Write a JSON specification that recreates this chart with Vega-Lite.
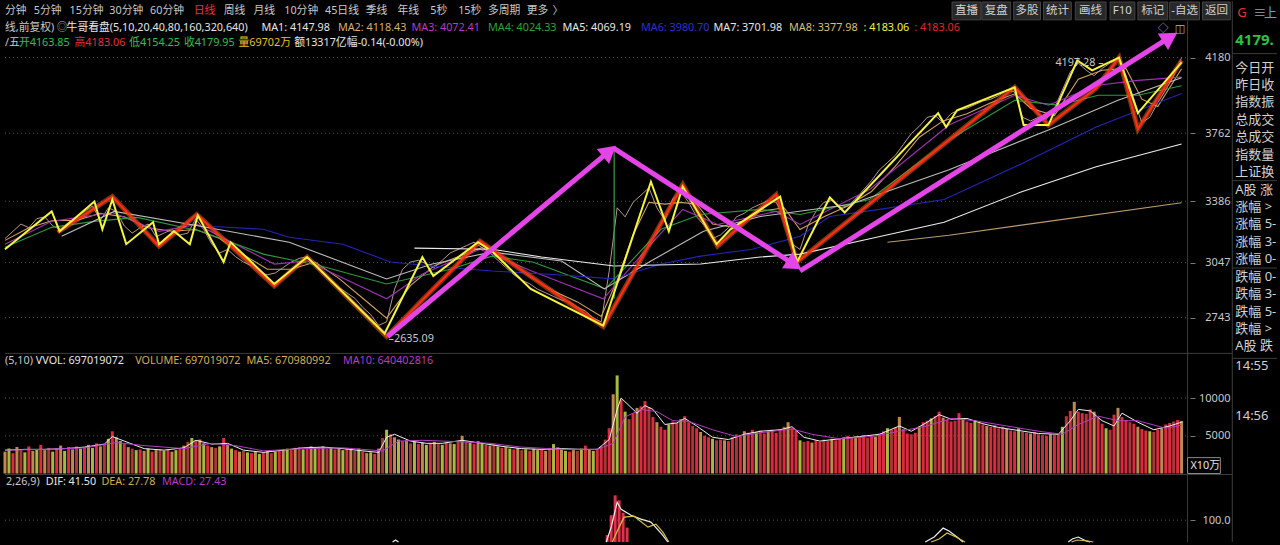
{
"$schema":"https://vega.github.io/schema/vega-lite/v6.json",
"width":1280,"height":545,
"autosize":{"type":"fit","contains":"padding"},
"padding":0,
"background":"#000000",
"config":{"view":{"stroke":null},"bar":{"continuousBandSize":3}},
"resolve":{"scale":{"y":"independent","color":"independent","strokeWidth":"independent"}},
"layer":[
{"data":{"values":[{"v":4180},{"v":3762},{"v":3386},{"v":3047},{"v":2743}]},
 "mark":{"type":"rule","color":"#505050","strokeDash":[1,3],"strokeWidth":1},
 "encoding":{"x":{"datum":0,"type":"quantitative","scale":{"domain":[0,320],"nice":false,"zero":false},"axis":null},"x2":{"datum":297.5},
  "y":{"field":"v","type":"quantitative","scale":{"domain":[1503.3,4492.6],"nice":false,"zero":false},
   "axis":{"orient":"right","offset":-90,"values":[2743,3047,3386,3762,4180],"format":"d","domain":false,"grid":false,"tickSize":5,"tickColor":"#777777","labelAlign":"right","labelPadding":35,"labelColor":"#c8c8c8","labelFont":"Noto Sans","labelFontSize":11,"labelBaseline":"middle","title":null}}}},
{"data":{"values":[{"v":10000},{"v":5000}]},
 "mark":{"type":"rule","color":"#505050","strokeDash":[1,3],"strokeWidth":1},
 "encoding":{"x":{"datum":0,"type":"quantitative","scale":{"domain":[0,320],"nice":false,"zero":false},"axis":null},"x2":{"datum":297.5},
  "y":{"field":"v","type":"quantitative","scale":{"domain":[-9079,62632],"nice":false,"zero":false},
   "axis":{"orient":"right","offset":-90,"values":[5000,10000],"format":"d","domain":false,"grid":false,"tickSize":5,"tickColor":"#777777","labelAlign":"right","labelPadding":35,"labelColor":"#c8c8c8","labelFont":"Noto Sans","labelFontSize":11,"labelBaseline":"middle","title":null}}}},
{"data":{"values":[{"v":100}]},
 "mark":{"type":"rule","color":"#505050","strokeDash":[1,3],"strokeWidth":1},
 "encoding":{"x":{"datum":0,"type":"quantitative","scale":{"domain":[0,320],"nice":false,"zero":false},"axis":null},"x2":{"datum":297.5},
  "y":{"field":"v","type":"quantitative","scale":{"domain":[56,1146],"nice":false,"zero":false},
   "axis":{"orient":"right","offset":-90,"values":[100],"format":".1f","domain":false,"grid":false,"tickSize":5,"tickColor":"#777777","labelAlign":"right","labelPadding":35,"labelColor":"#c8c8c8","labelFont":"Noto Sans","labelFontSize":11,"labelBaseline":"middle","title":null}}}},
{"data":{"values":[
 {"t1":0,"t2":308.75,"p1":2545.4,"p2":2545.4},
 {"t1":0,"t2":308.75,"p1":1876.2,"p2":1876.2},
 {"t1":297.5,"t2":297.5,"p1":4382.9,"p2":1503.3},
 {"t1":308.75,"t2":308.75,"p1":4492.6,"p2":1503.3},
 {"t1":308.75,"t2":320,"p1":4201.9,"p2":4201.9},
 {"t1":308.75,"t2":320,"p1":3499.8,"p2":3499.8},
 {"t1":308.75,"t2":320,"p1":3017.1,"p2":3017.1},
 {"t1":308.75,"t2":320,"p1":2518,"p2":2518}]},
 "mark":{"type":"rule","color":"#3c3c3c","strokeWidth":1},
 "encoding":{"x":{"field":"t1","type":"quantitative","scale":{"domain":[0,320],"nice":false,"zero":false},"axis":null},"x2":{"field":"t2"},
  "y":{"field":"p1","type":"quantitative","scale":{"domain":[1503.3,4492.6],"nice":false,"zero":false},"axis":null},"y2":{"field":"p2"}}},
{"data":{"values":[
 {"s":"直播","t1":238.25,"t2":245.5,"c":241.9},{"s":"复盘","t1":245.75,"t2":253,"c":249.4},{"s":"多股","t1":253.75,"t2":260.5,"c":257.1},
 {"s":"统计","t1":261.25,"t2":268.25,"c":264.75},{"s":"画线","t1":269.25,"t2":277,"c":273.1},{"s":"F10","t1":278,"t2":284.25,"c":281.1},
 {"s":"标记","t1":285,"t2":292.5,"c":288.75},{"s":"-自选","t1":293,"t2":300.5,"c":296.75},{"s":"返回","t1":301.25,"t2":308.25,"c":304.75}]},
 "layer":[
  {"mark":{"type":"rect","fill":"#282828","stroke":"#444444","strokeWidth":1},
   "encoding":{"x":{"field":"t1","type":"quantitative","scale":{"domain":[0,320],"nice":false,"zero":false},"axis":null},"x2":{"field":"t2"},
    "y":{"datum":4487.1,"type":"quantitative","scale":{"domain":[1503.3,4492.6],"nice":false,"zero":false},"axis":null},"y2":{"datum":4388.4}}},
  {"mark":{"type":"text","align":"center","baseline":"middle","font":"Noto Sans, Noto Sans CJK SC","fontSize":11.5,"color":"#d0d0d0"},
   "encoding":{"x":{"field":"c","type":"quantitative","scale":{"domain":[0,320],"nice":false,"zero":false},"axis":null},
    "y":{"datum":4435,"type":"quantitative","scale":{"domain":[1503.3,4492.6],"nice":false,"zero":false},"axis":null},"text":{"field":"s","type":"nominal"}}}]},
{"data":{"values":[{}]},
 "mark":{"type":"rect","fill":"#000000","stroke":"#8a8a8a","strokeWidth":1},
 "encoding":{"x":{"datum":297.5,"type":"quantitative","scale":{"domain":[0,320],"nice":false,"zero":false},"axis":null},"x2":{"datum":305.75},
  "y":{"datum":1969.5,"type":"quantitative","scale":{"domain":[1503.3,4492.6],"nice":false,"zero":false},"axis":null},"y2":{"datum":1881.8}}},
{"data":{"values":[
{"t":0,"p":3180},{"t":2,"p":3220},{"t":4,"p":3260},{"t":6,"p":3240},{"t":8,"p":3290},{"t":10,"p":3300},{"t":12,"p":3250},{"t":14,"p":3230},{"t":16,"p":3270},{"t":18,"p":3300},
{"t":20,"p":3330},{"t":22,"p":3360},{"t":24,"p":3280},{"t":26,"p":3350},{"t":28,"p":3330},{"t":30,"p":3250},{"t":32,"p":3210},{"t":34,"p":3240},{"t":36,"p":3260},{"t":38,"p":3190},
{"t":40,"p":3210},{"t":42,"p":3230},{"t":44,"p":3200},{"t":46,"p":3210},{"t":48,"p":3290},{"t":50,"p":3230},{"t":52,"p":3150},{"t":54,"p":3100},{"t":56,"p":3120},{"t":58,"p":3080},
{"t":60,"p":3050},{"t":62,"p":3030},{"t":64,"p":2990},{"t":66,"p":2980},{"t":68,"p":2990},{"t":70,"p":3020},{"t":72,"p":3050},{"t":74,"p":3070},{"t":76,"p":3080},{"t":78,"p":3040},
{"t":80,"p":2990},{"t":82,"p":2950},{"t":84,"p":2910},{"t":86,"p":2880},{"t":88,"p":2850},{"t":90,"p":2800},{"t":92,"p":2760},{"t":94,"p":2700},{"t":96,"p":2720},{"t":98,"p":2900},
{"t":100,"p":3010},{"t":102,"p":3050},{"t":104,"p":3060},{"t":106,"p":3040},{"t":108,"p":3020},{"t":110,"p":3060},{"t":112,"p":3100},{"t":114,"p":3120},{"t":116,"p":3140},{"t":118,"p":3160},
{"t":120,"p":3130},{"t":122,"p":3100},{"t":124,"p":3060},{"t":126,"p":3020},{"t":128,"p":2980},{"t":130,"p":2950},{"t":132,"p":2930},{"t":134,"p":2900},{"t":136,"p":2880},{"t":138,"p":2860},
{"t":140,"p":2840},{"t":142,"p":2830},{"t":144,"p":2800},{"t":146,"p":2780},{"t":148,"p":2740},{"t":150,"p":2720},{"t":152,"p":3000},{"t":154,"p":3350},{"t":156,"p":3300},{"t":158,"p":3380},
{"t":160,"p":3420},{"t":162,"p":3460},{"t":164,"p":3350},{"t":166,"p":3280},{"t":168,"p":3400},{"t":170,"p":3440},{"t":172,"p":3380},{"t":174,"p":3300},{"t":176,"p":3250},{"t":178,"p":3180},
{"t":180,"p":3200},{"t":182,"p":3240},{"t":184,"p":3300},{"t":186,"p":3320},{"t":188,"p":3350},{"t":190,"p":3370},{"t":192,"p":3390},{"t":194,"p":3380},{"t":196,"p":3300},{"t":198,"p":3150},
{"t":200,"p":3120},{"t":202,"p":3250},{"t":204,"p":3330},{"t":206,"p":3380},{"t":208,"p":3390},{"t":210,"p":3350},{"t":212,"p":3360},{"t":214,"p":3400},{"t":216,"p":3450},{"t":218,"p":3500},
{"t":220,"p":3560},{"t":222,"p":3600},{"t":224,"p":3640},{"t":226,"p":3700},{"t":228,"p":3760},{"t":230,"p":3800},{"t":232,"p":3850},{"t":234,"p":3860},{"t":236,"p":3820},{"t":238,"p":3870},
{"t":240,"p":3890},{"t":242,"p":3900},{"t":244,"p":3920},{"t":246,"p":3940},{"t":248,"p":3950},{"t":250,"p":3970},{"t":252,"p":4000},{"t":254,"p":3990},{"t":256,"p":3850},{"t":258,"p":3830},
{"t":260,"p":3850},{"t":262,"p":3840},{"t":264,"p":3900},{"t":266,"p":4000},{"t":268,"p":4100},{"t":270,"p":4150},{"t":272,"p":4110},{"t":274,"p":4080},{"t":276,"p":4120},{"t":278,"p":4150},
{"t":280,"p":4170},{"t":282,"p":4080},{"t":284,"p":3950},{"t":286,"p":3820},{"t":288,"p":3850},{"t":290,"p":3930},{"t":292,"p":4000},{"t":294,"p":4080},{"t":296,"p":4180}]},
 "mark":{"type":"line","color":"#f2c4c4","strokeWidth":1,"opacity":0.75},
 "encoding":{"x":{"field":"t","type":"quantitative","scale":{"domain":[0,320],"nice":false,"zero":false},"axis":null},
  "y":{"field":"p","type":"quantitative","scale":{"domain":[1503.3,4492.6],"nice":false,"zero":false},"axis":null}}},
{"data":{"values":[
{"s":"MA2","t":0,"p":3170},{"s":"MA2","t":6,"p":3240},{"s":"MA2","t":12,"p":3280},{"s":"MA2","t":18,"p":3280},{"s":"MA2","t":24,"p":3320},{"s":"MA2","t":30,"p":3300},{"s":"MA2","t":36,"p":3240},{"s":"MA2","t":42,"p":3220},{"s":"MA2","t":48,"p":3230},{"s":"MA2","t":54,"p":3180},{"s":"MA2","t":60,"p":3090},{"s":"MA2","t":66,"p":3010},{"s":"MA2","t":72,"p":3010},{"s":"MA2","t":78,"p":3050},{"s":"MA2","t":84,"p":2960},{"s":"MA2","t":90,"p":2850},{"s":"MA2","t":96,"p":2740},{"s":"MA2","t":102,"p":2920},{"s":"MA2","t":108,"p":3030},{"s":"MA2","t":114,"p":3080},{"s":"MA2","t":120,"p":3130},{"s":"MA2","t":126,"p":3070},{"s":"MA2","t":132,"p":2970},{"s":"MA2","t":138,"p":2890},{"s":"MA2","t":144,"p":2830},{"s":"MA2","t":150,"p":2750},{"s":"MA2","t":154,"p":2950},{"s":"MA2","t":158,"p":3200},{"s":"MA2","t":162,"p":3380},{"s":"MA2","t":166,"p":3370},{"s":"MA2","t":170,"p":3380},{"s":"MA2","t":174,"p":3370},{"s":"MA2","t":178,"p":3260},{"s":"MA2","t":184,"p":3240},{"s":"MA2","t":190,"p":3330},{"s":"MA2","t":196,"p":3350},{"s":"MA2","t":200,"p":3230},{"s":"MA2","t":206,"p":3300},{"s":"MA2","t":212,"p":3360},{"s":"MA2","t":218,"p":3440},{"s":"MA2","t":224,"p":3580},{"s":"MA2","t":230,"p":3740},{"s":"MA2","t":236,"p":3830},{"s":"MA2","t":242,"p":3870},{"s":"MA2","t":248,"p":3930},{"s":"MA2","t":254,"p":3980},{"s":"MA2","t":258,"p":3900},{"s":"MA2","t":264,"p":3860},{"s":"MA2","t":270,"p":4060},{"s":"MA2","t":276,"p":4110},{"s":"MA2","t":282,"p":4120},{"s":"MA2","t":286,"p":3950},{"s":"MA2","t":290,"p":3910},{"s":"MA2","t":296,"p":4118},
{"s":"MA3","t":0,"p":3149},{"s":"MA3","t":11.75,"p":3275},{"s":"MA3","t":27,"p":3324},{"s":"MA3","t":38.75,"p":3220},{"s":"MA3","t":48.25,"p":3258},{"s":"MA3","t":67.75,"p":3039},{"s":"MA3","t":76,"p":3056},{"s":"MA3","t":96,"p":2847},{"s":"MA3","t":105,"p":2984},{"s":"MA3","t":119.5,"p":3121},{"s":"MA3","t":132.5,"p":3001},{"s":"MA3","t":150.5,"p":2847},{"s":"MA3","t":162.5,"p":3149},{"s":"MA3","t":170.5,"p":3341},{"s":"MA3","t":179.25,"p":3258},{"s":"MA3","t":194,"p":3330},{"s":"MA3","t":200,"p":3258},{"s":"MA3","t":217.5,"p":3451},{"s":"MA3","t":237.5,"p":3807},{"s":"MA3","t":254,"p":3972},{"s":"MA3","t":262.5,"p":3917},{"s":"MA3","t":274.5,"p":4026},{"s":"MA3","t":285,"p":4054},{"s":"MA3","t":296,"p":4072},
{"s":"MA4","t":0,"p":3132},{"s":"MA4","t":11.75,"p":3242},{"s":"MA4","t":22.5,"p":3275},{"s":"MA4","t":33.25,"p":3297},{"s":"MA4","t":49.25,"p":3220},{"s":"MA4","t":65,"p":3094},{"s":"MA4","t":79.5,"p":3028},{"s":"MA4","t":96,"p":2929},{"s":"MA4","t":112.25,"p":3012},{"s":"MA4","t":122.5,"p":3083},{"s":"MA4","t":132.75,"p":3050},{"s":"MA4","t":151,"p":2902},{"s":"MA4","t":165,"p":3231},{"s":"MA4","t":175,"p":3313},{"s":"MA4","t":190,"p":3341},{"s":"MA4","t":200,"p":3313},{"s":"MA4","t":217.5,"p":3396},{"s":"MA4","t":237.5,"p":3725},{"s":"MA4","t":254,"p":3944},{"s":"MA4","t":265,"p":3917},{"s":"MA4","t":275,"p":3972},{"s":"MA4","t":285,"p":3972},{"s":"MA4","t":296,"p":4024},
{"s":"MA5","t":14.25,"p":3193},{"s":"MA5","t":27.5,"p":3330},{"s":"MA5","t":49.25,"p":3248},{"s":"MA5","t":71.5,"p":3160},{"s":"MA5","t":96,"p":2957},{"s":"MA5","t":107.5,"p":3039},{"s":"MA5","t":122.5,"p":3105},{"s":"MA5","t":140,"p":3056},{"s":"MA5","t":150.75,"p":2902},{"s":"MA5","t":162.5,"p":3056},{"s":"MA5","t":175.75,"p":3220},{"s":"MA5","t":190,"p":3302},{"s":"MA5","t":212.5,"p":3368},{"s":"MA5","t":237.5,"p":3560},{"s":"MA5","t":262.5,"p":3780},{"s":"MA5","t":280,"p":3944},{"s":"MA5","t":296,"p":4069},
{"s":"MA6","t":52.5,"p":3247},{"s":"MA6","t":65,"p":3231},{"s":"MA6","t":71.5,"p":3187},{"s":"MA6","t":85,"p":3149},{"s":"MA6","t":97,"p":3050},{"s":"MA6","t":110,"p":3023},{"s":"MA6","t":122.5,"p":3001},{"s":"MA6","t":140,"p":2979},{"s":"MA6","t":153,"p":2957},{"s":"MA6","t":165,"p":3039},{"s":"MA6","t":175,"p":3083},{"s":"MA6","t":188,"p":3121},{"s":"MA6","t":200,"p":3193},{"s":"MA6","t":207.5,"p":3302},{"s":"MA6","t":220,"p":3341},{"s":"MA6","t":236.25,"p":3396},{"s":"MA6","t":255.25,"p":3588},{"s":"MA6","t":274.5,"p":3796},{"s":"MA6","t":296,"p":3981},
{"s":"MA7","t":103,"p":3127},{"s":"MA7","t":122.5,"p":3121},{"s":"MA7","t":135,"p":3078},{"s":"MA7","t":153.25,"p":3028},{"s":"MA7","t":175,"p":3039},{"s":"MA7","t":190,"p":3078},{"s":"MA7","t":200,"p":3094},{"s":"MA7","t":217,"p":3176},{"s":"MA7","t":236.25,"p":3270},{"s":"MA7","t":255.25,"p":3434},{"s":"MA7","t":274.5,"p":3577},{"s":"MA7","t":296,"p":3702},
{"s":"MA8","t":222,"p":3160},{"s":"MA8","t":237.5,"p":3198},{"s":"MA8","t":262.5,"p":3275},{"s":"MA8","t":296,"p":3378}]},
 "mark":{"type":"line"},
 "encoding":{"x":{"field":"t","type":"quantitative","scale":{"domain":[0,320],"nice":false,"zero":false},"axis":null},
  "y":{"field":"p","type":"quantitative","scale":{"domain":[1503.3,4492.6],"nice":false,"zero":false},"axis":null},
  "color":{"field":"s","type":"nominal","scale":{"domain":["MA2","MA3","MA4","MA5","MA6","MA7","MA8"],"range":["#d0a060","#a030b8","#2c9a3c","#bdbdbd","#2424b8","#ececec","#b89c70"]},"legend":null},
  "strokeWidth":{"field":"s","type":"nominal","scale":{"domain":["MA2","MA3","MA4","MA5","MA6","MA7","MA8"],"range":[1.1,1.1,1.1,1.1,1.9,1.3,1.3]},"legend":null}}},
{"data":{"values":[{"t":153.25,"lo":2847,"hi":3692}]},
 "mark":{"type":"rule","color":"#3aa040","strokeWidth":1.2},
 "encoding":{"x":{"field":"t","type":"quantitative","scale":{"domain":[0,320],"nice":false,"zero":false},"axis":null},
  "y":{"field":"lo","type":"quantitative","scale":{"domain":[1503.3,4492.6],"nice":false,"zero":false},"axis":null},"y2":{"field":"hi"}}},
{"data":{"values":[{"t":13.25,"p":3215},{"t":27,"p":3412},{"t":38.75,"p":3138},{"t":48.25,"p":3313},{"t":67.75,"p":2918},{"t":76,"p":3078},{"t":96,"p":2639},{"t":119.5,"p":3165},{"t":150.5,"p":2694},{"t":170.5,"p":3478},{"t":179.25,"p":3138},{"t":194,"p":3423},{"t":199.25,"p":3050},{"t":254,"p":4016},{"t":262.5,"p":3807},{"t":274.5,"p":4010},{"t":280.25,"p":4180},{"t":285,"p":3785},{"t":296,"p":4164}]},
 "layer":[
  {"mark":{"type":"line","color":"#ff7a1a","strokeWidth":5,"opacity":0.45},
   "encoding":{"x":{"field":"t","type":"quantitative","scale":{"domain":[0,320],"nice":false,"zero":false},"axis":null},
    "y":{"field":"p","type":"quantitative","scale":{"domain":[1503.3,4492.6],"nice":false,"zero":false},"axis":null}}},
  {"mark":{"type":"line","color":"#ff2a1a","strokeWidth":2.2},
   "encoding":{"x":{"field":"t","type":"quantitative","scale":{"domain":[0,320],"nice":false,"zero":false},"axis":null},
    "y":{"field":"p","type":"quantitative","scale":{"domain":[1503.3,4492.6],"nice":false,"zero":false},"axis":null}}}]},
{"data":{"values":[{"t":0,"p":3121},{"t":11.75,"p":3330},{"t":13.75,"p":3220},{"t":22.5,"p":3385},{"t":24.5,"p":3231},{"t":27,"p":3396},{"t":30.5,"p":3149},{"t":37.25,"p":3270},{"t":38.75,"p":3149},{"t":42.5,"p":3220},{"t":46.5,"p":3149},{"t":48.5,"p":3308},{"t":55,"p":3050},{"t":56.75,"p":3160},{"t":67.75,"p":2929},{"t":76,"p":3078},{"t":95.5,"p":2655},{"t":105,"p":3078},{"t":107.75,"p":2973},{"t":119,"p":3160},{"t":122.5,"p":3110},{"t":132.25,"p":2902},{"t":150.5,"p":2699},{"t":162.5,"p":3494},{"t":167,"p":3220},{"t":170.5,"p":3467},{"t":179,"p":3149},{"t":182.5,"p":3231},{"t":195,"p":3412},{"t":199.25,"p":3050},{"t":207.5,"p":3407},{"t":211.25,"p":3324},{"t":234.75,"p":3873},{"t":236.75,"p":3796},{"t":239.5,"p":3889},{"t":254,"p":4016},{"t":256.25,"p":3807},{"t":262.5,"p":3807},{"t":269.75,"p":4164},{"t":273.5,"p":4109},{"t":280.25,"p":4180},{"t":285,"p":3873},{"t":296,"p":4153}]},
 "mark":{"type":"line","color":"#f4f43c","strokeWidth":2},
 "encoding":{"x":{"field":"t","type":"quantitative","scale":{"domain":[0,320],"nice":false,"zero":false},"axis":null},
  "y":{"field":"p","type":"quantitative","scale":{"domain":[1503.3,4492.6],"nice":false,"zero":false},"axis":null}}},
{"data":{"values":[{"a":"A1","t1":96.25,"p1":2638.8,"t2":151.5,"p2":3653,"dir":50},{"a":"A2","t1":153,"p1":3681,"t2":198,"p2":3044.6,"dir":123},{"a":"A3","t1":200,"p1":3000.7,"t2":292.5,"p2":4284.2,"dir":58}]},
 "layer":[
  {"mark":{"type":"rule","color":"#e444e8","strokeWidth":5,"strokeCap":"butt"},
   "encoding":{"x":{"field":"t1","type":"quantitative","scale":{"domain":[0,320],"nice":false,"zero":false},"axis":null},"x2":{"field":"t2"},
    "y":{"field":"p1","type":"quantitative","scale":{"domain":[1503.3,4492.6],"nice":false,"zero":false},"axis":null},"y2":{"field":"p2"}}},
  {"mark":{"type":"point","shape":"triangle","filled":true,"size":380,"color":"#e444e8","opacity":1},
   "encoding":{"x":{"field":"t2","type":"quantitative","scale":{"domain":[0,320],"nice":false,"zero":false},"axis":null},
    "y":{"field":"p2","type":"quantitative","scale":{"domain":[1503.3,4492.6],"nice":false,"zero":false},"axis":null},
    "angle":{"field":"dir","type":"quantitative","scale":null}}}]},
{"data":{"values":[
{"t":0,"v":2900,"k":"o"},{"t":1,"v":3300,"k":"g"},{"t":2,"v":2700,"k":"r"},{"t":3,"v":3500,"k":"o"},{"t":4,"v":3100,"k":"p"},{"t":5,"v":2800,"k":"g"},{"t":6,"v":3600,"k":"r"},{"t":7,"v":3000,"k":"o"},{"t":8,"v":3200,"k":"g"},{"t":9,"v":3800,"k":"r"},
{"t":10,"v":3100,"k":"o"},{"t":11,"v":3400,"k":"p"},{"t":12,"v":2900,"k":"g"},{"t":13,"v":3300,"k":"r"},{"t":14,"v":3700,"k":"o"},{"t":15,"v":3000,"k":"g"},{"t":16,"v":3500,"k":"r"},{"t":17,"v":3200,"k":"o"},{"t":18,"v":3600,"k":"p"},{"t":19,"v":3300,"k":"g"},
{"t":20,"v":3500,"k":"r"},{"t":21,"v":3800,"k":"o"},{"t":22,"v":3400,"k":"g"},{"t":23,"v":4000,"k":"r"},{"t":24,"v":3600,"k":"o"},{"t":25,"v":3900,"k":"p"},{"t":26,"v":4600,"k":"g"},{"t":27,"v":5600,"k":"r"},{"t":28,"v":4800,"k":"o"},{"t":29,"v":4300,"k":"g"},
{"t":30,"v":3900,"k":"r"},{"t":31,"v":3500,"k":"o"},{"t":32,"v":3300,"k":"p"},{"t":33,"v":3100,"k":"g"},{"t":34,"v":3200,"k":"r"},{"t":35,"v":3000,"k":"o"},{"t":36,"v":3300,"k":"g"},{"t":37,"v":2900,"k":"r"},{"t":38,"v":3100,"k":"o"},{"t":39,"v":3200,"k":"p"},
{"t":40,"v":3000,"k":"g"},{"t":41,"v":3200,"k":"r"},{"t":42,"v":2900,"k":"o"},{"t":43,"v":3100,"k":"g"},{"t":44,"v":3300,"k":"r"},{"t":45,"v":3700,"k":"o"},{"t":46,"v":4200,"k":"p"},{"t":47,"v":4700,"k":"g"},{"t":48,"v":4400,"k":"r"},{"t":49,"v":4500,"k":"o"},
{"t":50,"v":4000,"k":"g"},{"t":51,"v":3700,"k":"r"},{"t":52,"v":3500,"k":"o"},{"t":53,"v":3400,"k":"p"},{"t":54,"v":3600,"k":"g"},{"t":55,"v":4700,"k":"r"},{"t":56,"v":3800,"k":"o"},{"t":57,"v":3300,"k":"g"},{"t":58,"v":3100,"k":"r"},{"t":59,"v":2900,"k":"o"},
{"t":60,"v":3000,"k":"p"},{"t":61,"v":2800,"k":"g"},{"t":62,"v":2700,"k":"r"},{"t":63,"v":2900,"k":"o"},{"t":64,"v":2600,"k":"g"},{"t":65,"v":2800,"k":"r"},{"t":66,"v":3000,"k":"o"},{"t":67,"v":2700,"k":"p"},{"t":68,"v":2900,"k":"g"},{"t":69,"v":3100,"k":"r"},
{"t":70,"v":3200,"k":"o"},{"t":71,"v":3300,"k":"g"},{"t":72,"v":3100,"k":"r"},{"t":73,"v":3400,"k":"o"},{"t":74,"v":3500,"k":"p"},{"t":75,"v":3200,"k":"g"},{"t":76,"v":3300,"k":"r"},{"t":77,"v":3600,"k":"o"},{"t":78,"v":3400,"k":"g"},{"t":79,"v":3500,"k":"r"},
{"t":80,"v":3600,"k":"o"},{"t":81,"v":3300,"k":"p"},{"t":82,"v":3400,"k":"g"},{"t":83,"v":3200,"k":"r"},{"t":84,"v":3300,"k":"o"},{"t":85,"v":3100,"k":"g"},{"t":86,"v":3400,"k":"r"},{"t":87,"v":3200,"k":"o"},{"t":88,"v":3000,"k":"p"},{"t":89,"v":3300,"k":"g"},
{"t":90,"v":2900,"k":"r"},{"t":91,"v":2700,"k":"o"},{"t":92,"v":2800,"k":"g"},{"t":93,"v":2600,"k":"r"},{"t":94,"v":3300,"k":"o"},{"t":95,"v":4700,"k":"p"},{"t":96,"v":5800,"k":"g"},{"t":97,"v":5200,"k":"r"},{"t":98,"v":4800,"k":"o"},{"t":99,"v":4500,"k":"g"},
{"t":100,"v":4300,"k":"r"},{"t":101,"v":4400,"k":"o"},{"t":102,"v":4000,"k":"p"},{"t":103,"v":4200,"k":"g"},{"t":104,"v":3900,"k":"r"},{"t":105,"v":4100,"k":"o"},{"t":106,"v":3800,"k":"g"},{"t":107,"v":4000,"k":"r"},{"t":108,"v":4200,"k":"o"},{"t":109,"v":3900,"k":"p"},
{"t":110,"v":3800,"k":"g"},{"t":111,"v":4100,"k":"r"},{"t":112,"v":4000,"k":"o"},{"t":113,"v":3900,"k":"g"},{"t":114,"v":4300,"k":"r"},{"t":115,"v":5000,"k":"o"},{"t":116,"v":4200,"k":"p"},{"t":117,"v":4100,"k":"g"},{"t":118,"v":3900,"k":"r"},{"t":119,"v":4300,"k":"o"},
{"t":120,"v":4000,"k":"g"},{"t":121,"v":3800,"k":"r"},{"t":122,"v":3700,"k":"o"},{"t":123,"v":3900,"k":"p"},{"t":124,"v":3600,"k":"g"},{"t":125,"v":3400,"k":"r"},{"t":126,"v":3500,"k":"o"},{"t":127,"v":3300,"k":"g"},{"t":128,"v":3200,"k":"r"},{"t":129,"v":3400,"k":"o"},
{"t":130,"v":3100,"k":"p"},{"t":131,"v":3200,"k":"g"},{"t":132,"v":3000,"k":"r"},{"t":133,"v":3300,"k":"o"},{"t":134,"v":3100,"k":"g"},{"t":135,"v":3200,"k":"r"},{"t":136,"v":3000,"k":"o"},{"t":137,"v":3400,"k":"p"},{"t":138,"v":3900,"k":"g"},{"t":139,"v":3500,"k":"r"},
{"t":140,"v":3200,"k":"o"},{"t":141,"v":3000,"k":"g"},{"t":142,"v":2900,"k":"r"},{"t":143,"v":3100,"k":"o"},{"t":144,"v":3000,"k":"p"},{"t":145,"v":3300,"k":"g"},{"t":146,"v":3700,"k":"r"},{"t":147,"v":3200,"k":"o"},{"t":148,"v":3000,"k":"g"},{"t":149,"v":3300,"k":"r"},
{"t":150,"v":3600,"k":"r"},{"t":151,"v":4500,"k":"p"},{"t":152,"v":6000,"k":"r"},{"t":153,"v":10500,"k":"o"},{"t":154,"v":13000,"k":"g"},{"t":155,"v":9800,"k":"r"},{"t":156,"v":8200,"k":"g"},{"t":157,"v":7200,"k":"p"},{"t":158,"v":8000,"k":"r"},{"t":159,"v":8700,"k":"o"},
{"t":160,"v":8900,"k":"r"},{"t":161,"v":9600,"k":"r"},{"t":162,"v":8800,"k":"p"},{"t":163,"v":7500,"k":"r"},{"t":164,"v":6800,"k":"o"},{"t":165,"v":6200,"k":"r"},{"t":166,"v":5800,"k":"r"},{"t":167,"v":6500,"k":"g"},{"t":168,"v":6900,"k":"p"},{"t":169,"v":6700,"k":"r"},
{"t":170,"v":7200,"k":"o"},{"t":171,"v":7600,"k":"r"},{"t":172,"v":6800,"k":"r"},{"t":173,"v":6300,"k":"p"},{"t":174,"v":6000,"k":"r"},{"t":175,"v":5500,"k":"o"},{"t":176,"v":5000,"k":"r"},{"t":177,"v":4800,"k":"r"},{"t":178,"v":4600,"k":"g"},{"t":179,"v":4400,"k":"p"},
{"t":180,"v":4500,"k":"r"},{"t":181,"v":4400,"k":"o"},{"t":182,"v":4300,"k":"r"},{"t":183,"v":4800,"k":"r"},{"t":184,"v":5200,"k":"p"},{"t":185,"v":5000,"k":"r"},{"t":186,"v":5600,"k":"o"},{"t":187,"v":5400,"k":"r"},{"t":188,"v":5800,"k":"r"},{"t":189,"v":5500,"k":"g"},
{"t":190,"v":5700,"k":"p"},{"t":191,"v":5300,"k":"r"},{"t":192,"v":5600,"k":"o"},{"t":193,"v":5800,"k":"r"},{"t":194,"v":5400,"k":"r"},{"t":195,"v":5900,"k":"p"},{"t":196,"v":6200,"k":"r"},{"t":197,"v":6800,"k":"o"},{"t":198,"v":6000,"k":"r"},{"t":199,"v":5700,"k":"r"},
{"t":200,"v":4400,"k":"g"},{"t":201,"v":4200,"k":"p"},{"t":202,"v":4300,"k":"r"},{"t":203,"v":4100,"k":"o"},{"t":204,"v":4400,"k":"r"},{"t":205,"v":4200,"k":"r"},{"t":206,"v":4500,"k":"p"},{"t":207,"v":4300,"k":"r"},{"t":208,"v":4600,"k":"o"},{"t":209,"v":4400,"k":"r"},
{"t":210,"v":4600,"k":"r"},{"t":211,"v":4800,"k":"g"},{"t":212,"v":5000,"k":"p"},{"t":213,"v":4700,"k":"r"},{"t":214,"v":4900,"k":"o"},{"t":215,"v":4800,"k":"r"},{"t":216,"v":5100,"k":"r"},{"t":217,"v":4700,"k":"p"},{"t":218,"v":5000,"k":"r"},{"t":219,"v":4900,"k":"o"},
{"t":220,"v":5300,"k":"r"},{"t":221,"v":5600,"k":"r"},{"t":222,"v":6000,"k":"g"},{"t":223,"v":5800,"k":"p"},{"t":224,"v":6100,"k":"r"},{"t":225,"v":7500,"k":"o"},{"t":226,"v":5900,"k":"r"},{"t":227,"v":5300,"k":"r"},{"t":228,"v":5200,"k":"p"},{"t":229,"v":5400,"k":"r"},
{"t":230,"v":6200,"k":"o"},{"t":231,"v":6800,"k":"r"},{"t":232,"v":7000,"k":"r"},{"t":233,"v":7300,"k":"g"},{"t":234,"v":7600,"k":"p"},{"t":235,"v":8200,"k":"r"},{"t":236,"v":7400,"k":"o"},{"t":237,"v":7100,"k":"r"},{"t":238,"v":6900,"k":"r"},{"t":239,"v":7000,"k":"p"},
{"t":240,"v":8000,"k":"r"},{"t":241,"v":7200,"k":"o"},{"t":242,"v":6900,"k":"r"},{"t":243,"v":6700,"k":"r"},{"t":244,"v":7100,"k":"g"},{"t":245,"v":6800,"k":"p"},{"t":246,"v":6500,"k":"r"},{"t":247,"v":6300,"k":"o"},{"t":248,"v":6200,"k":"r"},{"t":249,"v":6400,"k":"r"},
{"t":250,"v":6000,"k":"p"},{"t":251,"v":6200,"k":"r"},{"t":252,"v":5900,"k":"o"},{"t":253,"v":5700,"k":"r"},{"t":254,"v":5600,"k":"r"},{"t":255,"v":6000,"k":"g"},{"t":256,"v":5500,"k":"p"},{"t":257,"v":5400,"k":"r"},{"t":258,"v":5300,"k":"o"},{"t":259,"v":5500,"k":"r"},
{"t":260,"v":5200,"k":"r"},{"t":261,"v":5100,"k":"p"},{"t":262,"v":5000,"k":"r"},{"t":263,"v":5200,"k":"o"},{"t":264,"v":5100,"k":"r"},{"t":265,"v":5300,"k":"r"},{"t":266,"v":6200,"k":"g"},{"t":267,"v":7600,"k":"p"},{"t":268,"v":8300,"k":"r"},{"t":269,"v":9500,"k":"o"},
{"t":270,"v":8200,"k":"r"},{"t":271,"v":8000,"k":"r"},{"t":272,"v":7900,"k":"p"},{"t":273,"v":8500,"k":"r"},{"t":274,"v":8200,"k":"o"},{"t":275,"v":7400,"k":"r"},{"t":276,"v":6600,"k":"r"},{"t":277,"v":6000,"k":"g"},{"t":278,"v":5800,"k":"p"},{"t":279,"v":7800,"k":"r"},
{"t":280,"v":8700,"k":"o"},{"t":281,"v":7500,"k":"r"},{"t":282,"v":7100,"k":"r"},{"t":283,"v":6800,"k":"p"},{"t":284,"v":6600,"k":"r"},{"t":285,"v":6200,"k":"o"},{"t":286,"v":5900,"k":"r"},{"t":287,"v":5700,"k":"r"},{"t":288,"v":5600,"k":"g"},{"t":289,"v":5500,"k":"p"},
{"t":290,"v":5800,"k":"r"},{"t":291,"v":6000,"k":"o"},{"t":292,"v":6500,"k":"r"},{"t":293,"v":6700,"k":"r"},{"t":294,"v":6900,"k":"p"},{"t":295,"v":7100,"k":"r"},{"t":296,"v":6970,"k":"o"}]},
 "mark":{"type":"bar","width":3,"orient":"vertical"},
 "encoding":{"x":{"field":"t","type":"quantitative","scale":{"domain":[0,320],"nice":false,"zero":false},"axis":null},
  "y":{"field":"v","type":"quantitative","scale":{"domain":[-9079,62632],"nice":false,"zero":false},"axis":null},"y2":{"datum":0},
  "color":{"field":"k","type":"nominal","scale":{"domain":["r","p","o","g"],"range":["#dc2a40","#a83838","#c08850","#a8b840"]},"legend":null}}},
{"data":{"values":[
{"s":"M5","t":0,"v":3100},{"s":"M5","t":5,"v":3200},{"s":"M5","t":10,"v":3200},{"s":"M5","t":15,"v":3300},{"s":"M5","t":20,"v":3500},{"s":"M5","t":25,"v":3900},{"s":"M5","t":27,"v":4900},{"s":"M5","t":30,"v":4300},{"s":"M5","t":35,"v":3300},{"s":"M5","t":40,"v":3100},{"s":"M5","t":45,"v":3400},{"s":"M5","t":48,"v":4400},{"s":"M5","t":52,"v":3900},{"s":"M5","t":56,"v":4000},{"s":"M5","t":60,"v":3100},{"s":"M5","t":65,"v":2800},{"s":"M5","t":70,"v":3100},{"s":"M5","t":75,"v":3400},{"s":"M5","t":80,"v":3500},{"s":"M5","t":85,"v":3300},{"s":"M5","t":90,"v":3000},{"s":"M5","t":94,"v":2800},{"s":"M5","t":96,"v":4800},{"s":"M5","t":98,"v":5200},{"s":"M5","t":102,"v":4300},{"s":"M5","t":106,"v":4000},{"s":"M5","t":110,"v":4000},{"s":"M5","t":115,"v":4400},{"s":"M5","t":120,"v":4000},{"s":"M5","t":125,"v":3600},{"s":"M5","t":130,"v":3300},{"s":"M5","t":135,"v":3200},{"s":"M5","t":140,"v":3300},{"s":"M5","t":145,"v":3200},{"s":"M5","t":149,"v":3200},{"s":"M5","t":152,"v":4500},{"s":"M5","t":154,"v":8500},{"s":"M5","t":155,"v":10000},{"s":"M5","t":157,"v":9000},{"s":"M5","t":159,"v":8000},{"s":"M5","t":161,"v":9000},{"s":"M5","t":163,"v":8500},{"s":"M5","t":166,"v":6500},{"s":"M5","t":169,"v":6700},{"s":"M5","t":171,"v":7300},{"s":"M5","t":174,"v":6300},{"s":"M5","t":178,"v":4800},{"s":"M5","t":182,"v":4500},{"s":"M5","t":186,"v":5200},{"s":"M5","t":190,"v":5600},{"s":"M5","t":195,"v":5800},{"s":"M5","t":198,"v":6200},{"s":"M5","t":201,"v":4800},{"s":"M5","t":205,"v":4300},{"s":"M5","t":210,"v":4600},{"s":"M5","t":215,"v":4900},{"s":"M5","t":220,"v":5200},{"s":"M5","t":225,"v":6300},{"s":"M5","t":228,"v":5600},{"s":"M5","t":232,"v":6800},{"s":"M5","t":235,"v":7800},{"s":"M5","t":238,"v":7200},{"s":"M5","t":242,"v":7300},{"s":"M5","t":246,"v":6600},{"s":"M5","t":250,"v":6100},{"s":"M5","t":255,"v":5700},{"s":"M5","t":260,"v":5300},{"s":"M5","t":265,"v":5200},{"s":"M5","t":268,"v":7000},{"s":"M5","t":270,"v":8500},{"s":"M5","t":273,"v":8300},{"s":"M5","t":276,"v":7000},{"s":"M5","t":279,"v":6300},{"s":"M5","t":281,"v":8000},{"s":"M5","t":285,"v":6800},{"s":"M5","t":289,"v":5800},{"s":"M5","t":293,"v":6300},{"s":"M5","t":296,"v":6800},
{"s":"M10","t":0,"v":3100},{"s":"M10","t":10,"v":3200},{"s":"M10","t":20,"v":3400},{"s":"M10","t":28,"v":4100},{"s":"M10","t":35,"v":3700},{"s":"M10","t":45,"v":3300},{"s":"M10","t":52,"v":4000},{"s":"M10","t":58,"v":3700},{"s":"M10","t":65,"v":3000},{"s":"M10","t":75,"v":3300},{"s":"M10","t":85,"v":3400},{"s":"M10","t":95,"v":3000},{"s":"M10","t":99,"v":4300},{"s":"M10","t":105,"v":4400},{"s":"M10","t":115,"v":4200},{"s":"M10","t":122,"v":4000},{"s":"M10","t":130,"v":3500},{"s":"M10","t":140,"v":3200},{"s":"M10","t":149,"v":3200},{"s":"M10","t":153,"v":4000},{"s":"M10","t":156,"v":7500},{"s":"M10","t":160,"v":8500},{"s":"M10","t":164,"v":8200},{"s":"M10","t":168,"v":7000},{"s":"M10","t":172,"v":6900},{"s":"M10","t":178,"v":5800},{"s":"M10","t":184,"v":4900},{"s":"M10","t":190,"v":5400},{"s":"M10","t":198,"v":5900},{"s":"M10","t":203,"v":5200},{"s":"M10","t":210,"v":4600},{"s":"M10","t":218,"v":4900},{"s":"M10","t":225,"v":5600},{"s":"M10","t":232,"v":6300},{"s":"M10","t":238,"v":7300},{"s":"M10","t":244,"v":7000},{"s":"M10","t":252,"v":6300},{"s":"M10","t":260,"v":5600},{"s":"M10","t":266,"v":5200},{"s":"M10","t":270,"v":6500},{"s":"M10","t":275,"v":7600},{"s":"M10","t":280,"v":7000},{"s":"M10","t":285,"v":7000},{"s":"M10","t":292,"v":6000},{"s":"M10","t":296,"v":6400}]},
 "mark":{"type":"line","strokeWidth":1},
 "encoding":{"x":{"field":"t","type":"quantitative","scale":{"domain":[0,320],"nice":false,"zero":false},"axis":null},
  "y":{"field":"v","type":"quantitative","scale":{"domain":[-9079,62632],"nice":false,"zero":false},"axis":null},
  "color":{"field":"s","type":"nominal","scale":{"domain":["M5","M10"],"range":["#eeeeee","#b040c0"]},"legend":null}}},
{"data":{"values":[{"t":151.5,"m":70},{"t":152.5,"m":110},{"t":153.5,"m":150},{"t":154.5,"m":140},{"t":155.5,"m":115},{"t":156.5,"m":85}]},
 "mark":{"type":"bar","width":3,"orient":"vertical","color":"#e0304a"},
 "encoding":{"x":{"field":"t","type":"quantitative","scale":{"domain":[0,320],"nice":false,"zero":false},"axis":null},
  "y":{"field":"m","type":"quantitative","scale":{"domain":[56,1146],"nice":false,"zero":false},"axis":null},"y2":{"datum":56}}},
{"data":{"values":[
{"s":"DIF","g":1,"t":151.25,"m":56},{"s":"DIF","g":1,"t":152.5,"m":86},{"s":"DIF","g":1,"t":154,"m":136},{"s":"DIF","g":1,"t":155,"m":122},{"s":"DIF","g":1,"t":157.5,"m":110},{"s":"DIF","g":1,"t":160,"m":102},{"s":"DIF","g":1,"t":162.5,"m":96},{"s":"DIF","g":1,"t":165.25,"m":72},{"s":"DIF","g":1,"t":166.75,"m":56},
{"s":"DIF","g":2,"t":231.5,"m":56},{"s":"DIF","g":2,"t":233.75,"m":66},{"s":"DIF","g":2,"t":236,"m":84},{"s":"DIF","g":2,"t":237.5,"m":78},{"s":"DIF","g":2,"t":239.5,"m":66},{"s":"DIF","g":2,"t":241,"m":56},
{"s":"DIF","g":3,"t":267.5,"m":56},{"s":"DIF","g":3,"t":268.5,"m":62},{"s":"DIF","g":3,"t":270,"m":66},{"s":"DIF","g":3,"t":272,"m":58},{"s":"DIF","g":3,"t":273,"m":56},
{"s":"DIF","g":4,"t":97.5,"m":56},{"s":"DIF","g":4,"t":98.25,"m":60},{"s":"DIF","g":4,"t":99,"m":56},
{"s":"DEA","g":5,"t":152.8,"m":56},{"s":"DEA","g":5,"t":154.5,"m":86},{"s":"DEA","g":5,"t":155.75,"m":106},{"s":"DEA","g":5,"t":158.25,"m":108},{"s":"DEA","g":5,"t":161.75,"m":86},{"s":"DEA","g":5,"t":163.75,"m":92},{"s":"DEA","g":5,"t":165.5,"m":76},{"s":"DEA","g":5,"t":167,"m":56},
{"s":"DEA","g":6,"t":233,"m":56},{"s":"DEA","g":6,"t":235,"m":62},{"s":"DEA","g":6,"t":237,"m":74},{"s":"DEA","g":6,"t":239.25,"m":66},{"s":"DEA","g":6,"t":241.5,"m":56},
{"s":"DEA","g":7,"t":268.3,"m":56},{"s":"DEA","g":7,"t":269.75,"m":60},{"s":"DEA","g":7,"t":272.5,"m":58},{"s":"DEA","g":7,"t":273.8,"m":56}]},
 "mark":{"type":"line","strokeWidth":1.2},
 "encoding":{"x":{"field":"t","type":"quantitative","scale":{"domain":[0,320],"nice":false,"zero":false},"axis":null},
  "y":{"field":"m","type":"quantitative","scale":{"domain":[56,1146],"nice":false,"zero":false},"axis":null},
  "detail":{"field":"g","type":"nominal"},
  "color":{"field":"s","type":"nominal","scale":{"domain":["DIF","DEA"],"range":["#eeeeee","#d8c040"]},"legend":null}}},
{"data":{"values":[
{"s":"分钟","t":0,"p":4435,"k":"ti"},{"s":"5分钟","t":7.25,"p":4435,"k":"ti"},{"s":"15分钟","t":16.25,"p":4435,"k":"ti"},{"s":"30分钟","t":26.25,"p":4435,"k":"ti"},{"s":"60分钟","t":36.5,"p":4435,"k":"ti"},{"s":"日线","t":47.5,"p":4435,"k":"act"},{"s":"周线","t":55,"p":4435,"k":"ti"},{"s":"月线","t":62.5,"p":4435,"k":"ti"},{"s":"10分钟","t":70.25,"p":4435,"k":"ti"},{"s":"45日线","t":80.5,"p":4435,"k":"ti"},{"s":"季线","t":90.75,"p":4435,"k":"ti"},{"s":"年线","t":98.75,"p":4435,"k":"ti"},{"s":"5秒","t":107,"p":4435,"k":"ti"},{"s":"15秒","t":114,"p":4435,"k":"ti"},{"s":"多周期","t":121.5,"p":4435,"k":"ti"},{"s":"更多","t":131.25,"p":4435,"k":"ti"},{"s":"〉","t":137.75,"p":4435,"k":"ti"},
{"s":"线,前复权)","t":0,"p":4344.5,"k":"ti"},{"s":"◎","t":13,"p":4344.5,"k":"icon"},{"s":"牛哥看盘(5,10,20,40,80,160,320,640)","t":15.5,"p":4344.5,"k":"w"},{"s":"MA1: 4147.98","t":64.5,"p":4344.5,"k":"w"},{"s":"MA2: 4118.43","t":83.75,"p":4344.5,"k":"ma2"},{"s":"MA3: 4072.41","t":102.25,"p":4344.5,"k":"ma3"},{"s":"MA4: 4024.33","t":121.5,"p":4344.5,"k":"ma4"},{"s":"MA5: 4069.19","t":140.25,"p":4344.5,"k":"w"},{"s":"MA6: 3980.70","t":160,"p":4344.5,"k":"ma6"},{"s":"MA7: 3701.98","t":178.25,"p":4344.5,"k":"w"},{"s":"MA8: 3377.98","t":197.25,"p":4344.5,"k":"ma8"},{"s":": 4183.06","t":216,"p":4344.5,"k":"zy"},{"s":": 4183.06","t":228.75,"p":4344.5,"k":"zr"},{"s":"◇","t":290,"p":4339,"k":"icon"},{"s":"◫","t":294.25,"p":4339,"k":"icon"},
{"s":"/五","t":0,"p":4262.2,"k":"ti"},{"s":"开4163.85","t":3.5,"p":4262.2,"k":"down"},{"s":"高4183.06","t":17.5,"p":4262.2,"k":"up"},{"s":"低4154.25","t":31.25,"p":4262.2,"k":"down"},{"s":"收4179.95","t":45,"p":4262.2,"k":"down"},{"s":"量69702万","t":58.75,"p":4262.2,"k":"vol"},{"s":"额13317亿","t":72.75,"p":4262.2,"k":"w"},{"s":"幅-0.14(-0.00%)","t":86,"p":4262.2,"k":"w"},
{"s":"(5,10)","t":0,"p":2501.5,"k":"ti"},{"s":"VVOL: 697019072","t":7.75,"p":2501.5,"k":"w"},{"s":"VOLUME: 697019072","t":32.75,"p":2501.5,"k":"vy"},{"s":"MA5: 670980992","t":60.75,"p":2501.5,"k":"vy"},{"s":"MA10: 640402816","t":85,"p":2501.5,"k":"pu"},
{"s":"2,26,9)","t":0.25,"p":1832.4,"k":"ti"},{"s":"DIF: 41.50","t":10.25,"p":1832.4,"k":"w"},{"s":"DEA: 27.78","t":24.25,"p":1832.4,"k":"vy"},{"s":"MACD: 27.43","t":39.5,"p":1832.4,"k":"pu"},
{"s":"–2635.09","t":96.5,"p":2627.7,"k":"ti"},{"s":"4197.28 –","t":264.25,"p":4152.5,"k":"ti"},{"s":"X10万","t":298.25,"p":1925.6,"k":"w"}]},
 "mark":{"type":"text","align":"left","baseline":"middle","font":"Noto Sans, Noto Sans CJK SC, DejaVu Sans","fontSize":10.8},
 "encoding":{"x":{"field":"t","type":"quantitative","scale":{"domain":[0,320],"nice":false,"zero":false},"axis":null},
  "y":{"field":"p","type":"quantitative","scale":{"domain":[1503.3,4492.6],"nice":false,"zero":false},"axis":null},
  "text":{"field":"s","type":"nominal"},
  "color":{"field":"k","type":"nominal","scale":{"domain":["ti","act","w","up","down","vol","vy","pu","ma2","ma3","ma4","ma6","ma8","zy","zr","icon"],"range":["#c8c8c8","#e83030","#e6e6e6","#e83030","#2ec04a","#e8c020","#d0b050","#b43cc8","#d8b070","#b43cc8","#2ea040","#3030d0","#d8c070","#f0f040","#e02828","#b0b0b0"]},"legend":null}}},
{"data":{"values":[
{"s":"G","t":310,"p":4426.8,"k":"up"},{"s":"≡","t":314,"p":4426.8,"k":"icon"},{"s":"上","t":316.75,"p":4426.8,"k":"cy"},
{"s":"今日开盘","t":309.5,"p":4125.1,"k":"ti"},{"s":"昨日收盘","t":309.5,"p":4028.8,"k":"ti"},{"s":"指数振幅","t":309.5,"p":3932.5,"k":"ti"},{"s":"总成交额","t":309.5,"p":3836.2,"k":"ti"},{"s":"总成交量","t":309.5,"p":3739.8,"k":"ti"},{"s":"指数量比","t":309.5,"p":3643.5,"k":"ti"},{"s":"上证换手","t":309.5,"p":3547.2,"k":"ti"},
{"s":"A股 涨家数","t":309.5,"p":3450.9,"k":"ti"},{"s":"涨幅 > 7%","t":309.5,"p":3354.6,"k":"ti"},{"s":"涨幅 5-7%","t":309.5,"p":3258.3,"k":"ti"},{"s":"涨幅 3-5%","t":309.5,"p":3162,"k":"ti"},{"s":"涨幅 0-3%","t":309.5,"p":3065.6,"k":"ti"},
{"s":"跌幅 0-3%","t":309.5,"p":2969.3,"k":"ti"},{"s":"跌幅 3-5%","t":309.5,"p":2873,"k":"ti"},{"s":"跌幅 5-7%","t":309.5,"p":2776.7,"k":"ti"},{"s":"跌幅 > 7%","t":309.5,"p":2680.4,"k":"ti"},{"s":"A股 跌家数","t":309.5,"p":2584.1,"k":"ti"},
{"s":"14:55","t":309.5,"p":2474.1,"k":"ti"},{"s":"14:56","t":309.5,"p":2199.9,"k":"ti"}]},
 "mark":{"type":"text","align":"left","baseline":"middle","font":"Noto Sans, Noto Sans CJK SC, DejaVu Sans","fontSize":13,"limit":42,"ellipsis":"\u200b"},
 "encoding":{"x":{"field":"t","type":"quantitative","scale":{"domain":[0,320],"nice":false,"zero":false},"axis":null},
  "y":{"field":"p","type":"quantitative","scale":{"domain":[1503.3,4492.6],"nice":false,"zero":false},"axis":null},
  "text":{"field":"s","type":"nominal"},
  "color":{"field":"k","type":"nominal","scale":{"domain":["ti","up","icon","cy"],"range":["#d0d0d0","#e83030","#a0a0a0","#3ab0f0"]},"legend":null}}},
{"data":{"values":[{"s":"4179.95","t":309.5,"p":4278.7}]},
 "mark":{"type":"text","align":"left","baseline":"middle","font":"Noto Sans","fontSize":15,"fontWeight":"bold","color":"#30c040","limit":42,"ellipsis":"\u200b"},
 "encoding":{"x":{"field":"t","type":"quantitative","scale":{"domain":[0,320],"nice":false,"zero":false},"axis":null},
  "y":{"field":"p","type":"quantitative","scale":{"domain":[1503.3,4492.6],"nice":false,"zero":false},"axis":null},
  "text":{"field":"s","type":"nominal"}}}
]
}
